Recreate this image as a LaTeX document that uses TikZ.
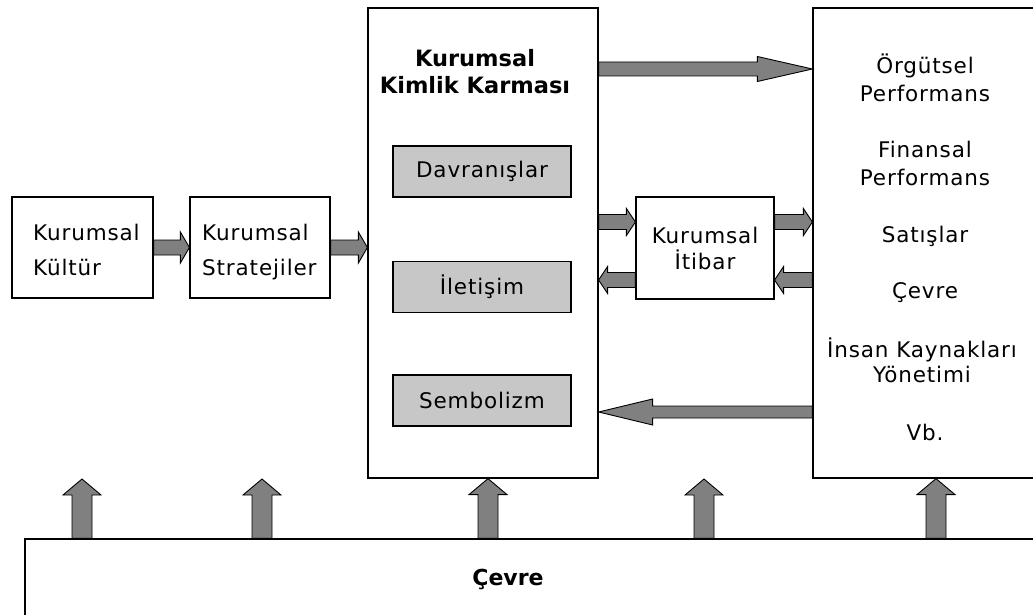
\documentclass[tikz,border=0pt]{standalone}
\usepackage{fontspec}
\setmainfont{DejaVu Sans}[LetterSpace=4,BoldFeatures={LetterSpace=0}]
\usetikzlibrary{calc}
\definecolor{arrgray}{gray}{0.5}
\definecolor{boxgray}{gray}{0.78}
\newcommand{\txtfont}{\fontsize{21.5pt}{28pt}\selectfont}
\tikzset{
  box/.style={draw=black, line width=1.2pt, fill=white, inner sep=0pt},
  gbox/.style={box, fill=boxgray, minimum width=178, minimum height=51, font=\txtfont},
  txt/.style={inner sep=0pt, font=\txtfont, align=center},
  barr/.style={draw=black, line width=0.9pt, fill=arrgray, line join=miter},
}
% block arrow: from, to, shaft half width, head half width, head length
\newcommand{\blkarrow}[5]{%
  \draw[barr] let \p1=(#1), \p2=(#2),
    \n1={atan2(\y2-\y1,\x2-\x1)}, \n2={veclen(\x2-\x1,\y2-\y1)} in
    [shift={(\p1)}, rotate=\n1]
    (0,-#3) -- ({\n2-#5},-#3) -- ({\n2-#5},-#4) -- (\n2,0) --
    ({\n2-#5},#4) -- ({\n2-#5},#3) -- (0,#3) -- cycle;}
\begin{document}
\begin{tikzpicture}[x=1pt,y=-1pt]
\useasboundingbox (0,0) rectangle (1033,615);
\clip (0,0) rectangle (1033,615);

% boxes
\node[box, minimum width=141, minimum height=101] (kultur) at (82.5,247.5) {};
\node[txt, align=left, anchor=west, font=\fontsize{21.5pt}{35pt}\selectfont] (kulturtxt) at (33,250) {Kurumsal\\Kültür};

\node[box, minimum width=140, minimum height=101] (strat) at (260,247.5) {};
\node[txt, align=left, anchor=west, font=\fontsize{21.5pt}{35pt}\selectfont] (strattxt) at (202,252) {Kurumsal\\Stratejiler};

\node[box, minimum width=230, minimum height=470] (kimlik) at (483,243) {};
\node[txt, font=\fontsize{22.5pt}{27pt}\selectfont\bfseries] (kimliktxt) at (475,71.5) {Kurumsal\\Kimlik Karması};
\node[gbox] (davr) at (482,171.5) {Davranışlar};
\node[gbox] (ilet) at (482,287) {İletişim};
\node[gbox] (semb) at (482,400.5) {Sembolizm};

\node[box, minimum width=138, minimum height=102, align=center, font=\fontsize{21.5pt}{26pt}\selectfont] (itibar) at (705,248) {Kurumsal\\İtibar};

\node[box, minimum width=240, minimum height=470] (perf) at (933,243) {};
\node[txt] (p1) at (925,77.5) {Örgütsel\\Performans};
\node[txt] (p2) at (925,163.5) {Finansal\\Performans};
\node[txt] (p3) at (925,236) {Satışlar};
\node[txt] (p4) at (925,292.5) {Çevre};
\node[txt, font=\fontsize{21.5pt}{25pt}\selectfont] (p5) at (922,360) {İnsan Kaynakları\\Yönetimi};
\node[txt] (p6) at (925,432) {Vb.};

\node[box, minimum width=1025, minimum height=101] (cevre) at (537.5,589.5) {};
\node[txt, font=\fontsize{22pt}{28pt}\selectfont\bfseries] (cevretxt) at (508,579) {Çevre};

% helper coordinates
\coordinate (yt) at (0,69);
\coordinate (yr) at (0,222);
\coordinate (yl) at (0,280);
\coordinate (yb) at (0,412);
\coordinate (v1) at (82,479);
\coordinate (v2) at (262,479);
\coordinate (v3) at (488,0);
\coordinate (v4) at (704,479);
\coordinate (v5) at (936,0);

% horizontal arrows
\blkarrow{kultur.east}{strat.west}{7.5}{15.5}{9}
\blkarrow{strat.east}{strat.east -| kimlik.west}{7.5}{15.5}{9}
\blkarrow{kimlik.east |- yt}{perf.west |- yt}{7}{12.5}{55}
\blkarrow{kimlik.east |- yr}{itibar.west |- yr}{7.5}{13.5}{9}
\blkarrow{itibar.west |- yl}{kimlik.east |- yl}{7.5}{13.5}{9}
\blkarrow{itibar.east |- yr}{perf.west |- yr}{7.5}{13.5}{9}
\blkarrow{perf.west |- yl}{itibar.east |- yl}{7.5}{13.5}{9}
\blkarrow{perf.west |- yb}{kimlik.east |- yb}{6}{13}{54}

% vertical arrows
\blkarrow{cevre.north -| v1}{v1}{10}{19}{16}
\blkarrow{cevre.north -| v2}{v2}{10}{19}{16}
\blkarrow{cevre.north -| v3}{kimlik.south -| v3}{10}{19}{16}
\blkarrow{cevre.north -| v4}{v4}{10}{19}{16}
\blkarrow{cevre.north -| v5}{perf.south -| v5}{10}{19}{16}
\end{tikzpicture}
\end{document}
